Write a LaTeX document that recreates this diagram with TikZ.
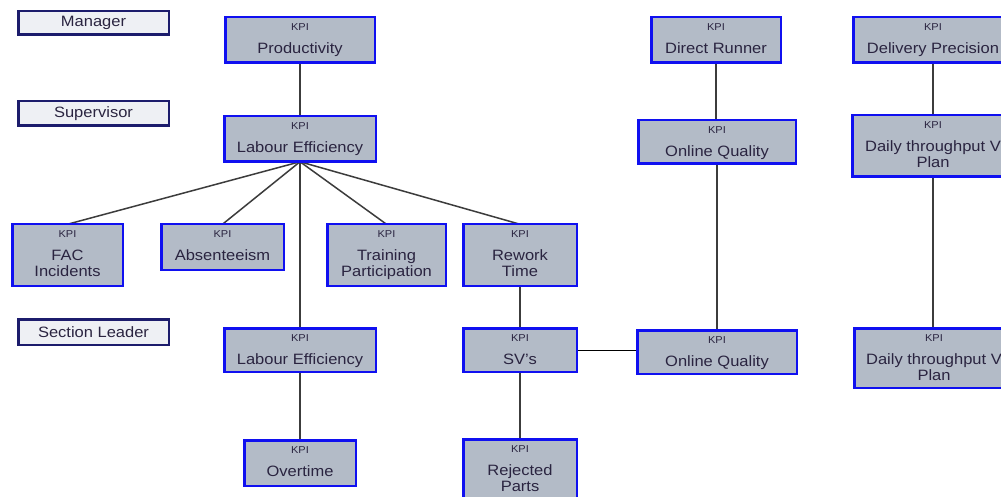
\documentclass[tikz,border=0pt]{standalone}
\usepackage{fontspec}
\setmainfont{Liberation Sans}[FakeStretch=1.1]
\usetikzlibrary{backgrounds}
\definecolor{kblue}{HTML}{1010F0}
\definecolor{kfill}{HTML}{B3BBC7}
\definecolor{lnavy}{HTML}{1C1C6C}
\definecolor{lfill}{HTML}{EEF0F4}
\definecolor{ktext}{HTML}{2A2440}
\definecolor{lgray}{HTML}{3C3C3C}
\tikzset{
  kbox/.style={draw=kblue, line width=2.5pt, fill=kfill, inner sep=0pt, outer sep=0pt},
  lbox/.style={draw=lnavy, line width=2.5pt, fill=lfill, inner sep=0pt, outer sep=0pt, text=ktext, font=\fontsize{15}{16}\selectfont},
  kpitxt/.style={font=\fontsize{10}{11}\selectfont, text=ktext, inner sep=0pt, anchor=base},
  ktxt/.style={font=\fontsize{15}{16}\selectfont, text=ktext, inner sep=0pt, anchor=base},
  conn/.style={draw=lgray, line width=1.5pt}
}
\newcommand\kpibox[7]{%
  \node[kbox, minimum width={#4-#2-2.5}, minimum height={#5-#3-2.5}] (#1) at ({(#2+#4)/2},{(#3+#5)/2}) {};
  \node[kpitxt] (#1k) at ([yshift=-13.5pt]#1.north) {KPI};
  \node[ktxt] (#1a) at ([yshift=-36pt]#1.north) {#6};
  \if\relax\detokenize{#7}\relax\else\node[ktxt] (#1b) at ([yshift=-52pt]#1.north) {#7};\fi
}
\newcommand\lvlbox[6]{%
  \node[lbox, minimum width={#4-#2-2.5}, minimum height={#5-#3-2.5}] (#1) at ({(#2+#4)/2},{(#3+#5)/2}) {#6};
}
\begin{document}
\begin{tikzpicture}[x=1pt,y=-1pt]
\useasboundingbox (0,0) rectangle (1001,497);
\clip (0,0) rectangle (1001,497);
% level labels
\lvlbox{mgr}{17}{10}{170}{36}{Manager}
\lvlbox{sup}{17}{100}{170}{127}{Supervisor}
\lvlbox{sl}{17}{318}{170}{346}{Section Leader}
% KPI boxes
\kpibox{prod}{224}{16}{376}{64}{Productivity}{}
\kpibox{labA}{223}{115}{377}{163}{Labour Efficiency}{}
\kpibox{fac}{11}{223}{124}{287}{FAC}{Incidents}
\kpibox{abs}{160}{223}{285}{271}{Absenteeism}{}
\kpibox{trn}{326}{223}{447}{287}{Training}{Participation}
\kpibox{rwk}{462}{223}{578}{287}{Rework}{Time}
\kpibox{labB}{223}{327}{377}{373}{Labour Efficiency}{}
\kpibox{sv}{462}{327}{578}{373}{SV’s}{}
\kpibox{ovt}{243}{439}{357}{487}{Overtime}{}
\kpibox{rej}{462}{438}{578}{510}{Rejected}{Parts}
\kpibox{dr}{650}{16}{782}{64}{Direct Runner}{}
\kpibox{oqA}{637}{119}{797}{165}{Online Quality}{}
\kpibox{oqB}{636}{329}{798}{375}{Online Quality}{}
\kpibox{dp}{852}{16}{1014}{64}{Delivery Precision}{}
\kpibox{dtA}{851}{114}{1015}{178}{Daily throughput V}{Plan}
\kpibox{dtB}{853}{327}{1015}{389}{Daily throughput V}{Plan}
% connectors
\begin{scope}[on background layer]
\fill[white] (0,0) rectangle (1001,497);
\draw[conn] (prod.south) -- (labA.north);
\draw[conn] (labA.south) -- (fac.north);
\draw[conn] (labA.south) -- (abs.north);
\draw[conn] (labA.south) -- (trn.north);
\draw[conn] (labA.south) -- (rwk.north);
\draw[conn] (labA.south) -- (labB.north);
\draw[conn] (labB.south) -- (ovt.north);
\draw[conn] (rwk.south) -- (sv.north);
\draw[conn] (sv.south) -- (rej.north);
\draw[conn, draw=black, line width=1pt] (sv.east) -- (sv.east -| oqB.west);
\draw[conn] (dr.south) -- (dr.south |- oqA.north);
\draw[conn] (oqA.south) -- (oqA.south |- oqB.north);
\draw[conn] (dp.south) -- (dp.south |- dtA.north);
\draw[conn] (dtA.south) -- (dtA.south |- dtB.north);
\end{scope}
\end{tikzpicture}
\end{document}
